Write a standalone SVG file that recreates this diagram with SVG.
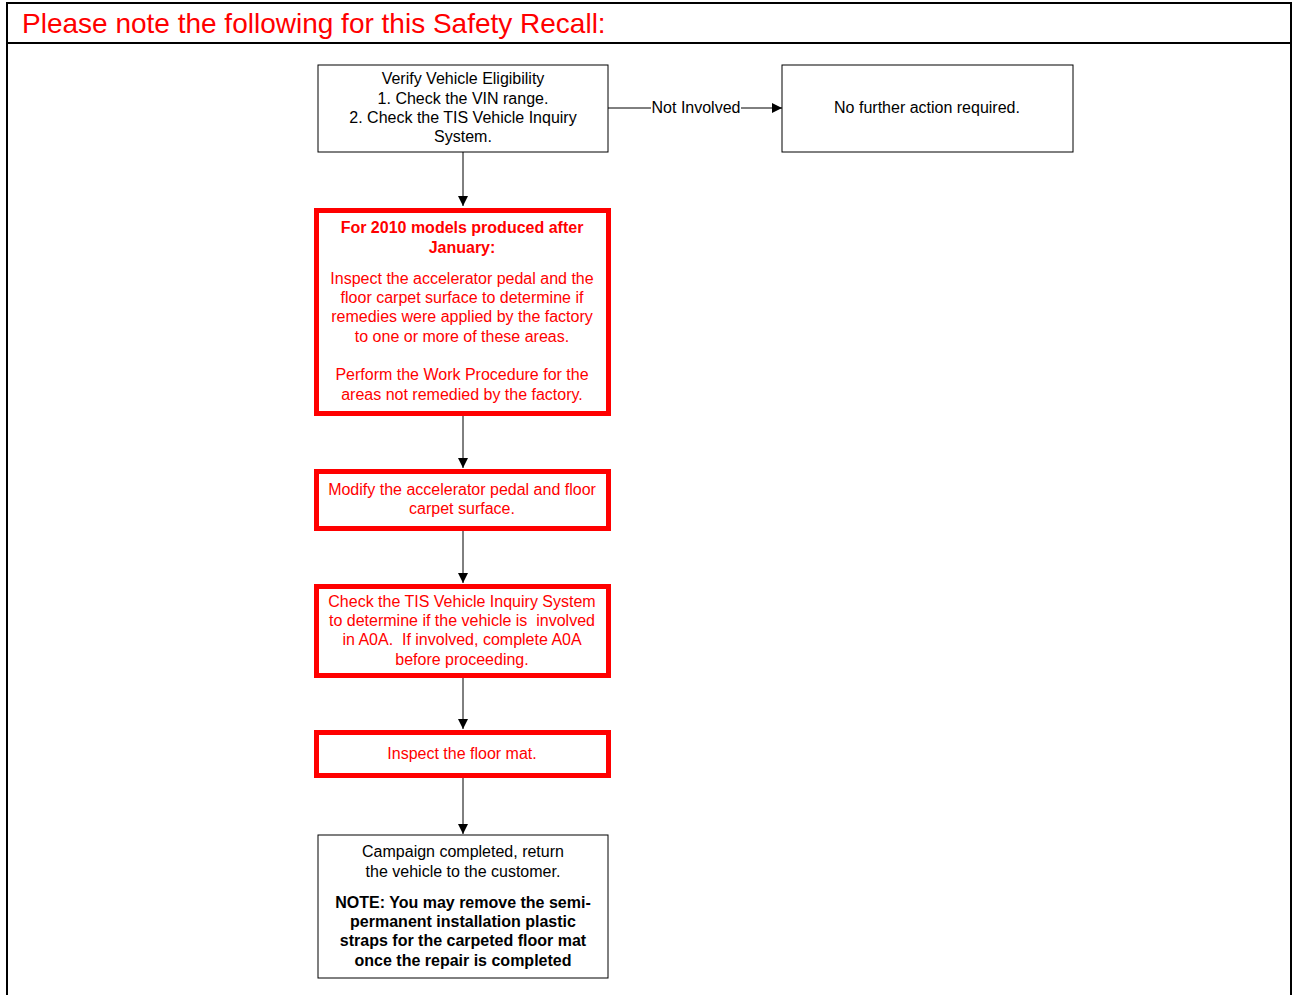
<svg xmlns="http://www.w3.org/2000/svg" width="1296" height="995" viewBox="0 0 1296 995">
<style>
text{font-family:"Liberation Sans",Arial,sans-serif;font-size:16px;text-anchor:middle;white-space:pre}
.blk{fill:#000}
.red{fill:#ff0000}
.b{font-weight:bold}
.box{fill:#fff;stroke:#000;stroke-width:1}
.rbox{fill:#fff;stroke:#ff0000;stroke-width:5}
.con{stroke:#000;stroke-width:1;fill:none;marker-end:url(#arr)}
</style>
<defs>
<marker id="arr" markerWidth="10" markerHeight="10" refX="10" refY="5" orient="auto" markerUnits="userSpaceOnUse">
<path d="M0,0 L10,5 L0,10 z" fill="#000"/>
</marker>
</defs>
<rect width="1296" height="995" fill="#fff"/>
<g id="frame" stroke="#000" stroke-width="2" fill="none">
<path d="M7,995 V3 H1291 V995"/>
<line x1="7" y1="43" x2="1291" y2="43"/>
</g>
<text x="22" y="33" class="red" style="font-size:28px;text-anchor:start">Please note the following for this Safety Recall:</text>
<g id="connectors">
<line class="con" x1="463" y1="152" x2="463" y2="206"/>
<line class="con" x1="463" y1="415" x2="463" y2="468"/>
<line class="con" x1="463" y1="531" x2="463" y2="583"/>
<line class="con" x1="463" y1="678" x2="463" y2="729"/>
<line class="con" x1="463" y1="778" x2="463" y2="834"/>
<line x1="608" y1="108" x2="651" y2="108" stroke="#000"/>
<line class="con" x1="741" y1="108" x2="782" y2="108"/>
<text x="696" y="113" class="blk">Not Involved</text>
</g>
<g id="verify">
<rect class="box" x="318" y="65" width="290" height="87"/>
<text class="blk" x="463" y="84">Verify Vehicle Eligibility</text>
<text class="blk" x="463" y="104">1. Check the VIN range.</text>
<text class="blk" x="463" y="123">2. Check the TIS Vehicle Inquiry</text>
<text class="blk" x="463" y="142">System.</text>
</g>
<g id="nofurther">
<rect class="box" x="782" y="65" width="291" height="87"/>
<text class="blk" x="927" y="113">No further action required.</text>
</g>
<g id="models2010">
<rect class="rbox" x="316.5" y="210.5" width="292" height="203"/>
<text class="red b" x="462" y="233">For 2010 models produced after</text>
<text class="red b" x="462" y="253">January:</text>
<text class="red" x="462" y="284">Inspect the accelerator pedal and the</text>
<text class="red" x="462" y="303">floor carpet surface to determine if</text>
<text class="red" x="462" y="322">remedies were applied by the factory</text>
<text class="red" x="462" y="342">to one or more of these areas.</text>
<text class="red" x="462" y="380">Perform the Work Procedure for the</text>
<text class="red" x="462" y="400">areas not remedied by the factory.</text>
</g>
<g id="modify">
<rect class="rbox" x="316.5" y="471.5" width="292" height="57"/>
<text class="red" x="462" y="495">Modify the accelerator pedal and floor</text>
<text class="red" x="462" y="514">carpet surface.</text>
</g>
<g id="checktis">
<rect class="rbox" x="316.5" y="586.5" width="292" height="89"/>
<text class="red" x="462" y="607">Check the TIS Vehicle Inquiry System</text>
<text class="red" x="462" y="626">to determine if the vehicle is  involved</text>
<text class="red" x="462" y="645">in A0A.  If involved, complete A0A</text>
<text class="red" x="462" y="665">before proceeding.</text>
</g>
<g id="floormat">
<rect class="rbox" x="316.5" y="732.5" width="292" height="43"/>
<text class="red" x="462" y="759">Inspect the floor mat.</text>
</g>
<g id="completed">
<rect class="box" x="318" y="835" width="290" height="143"/>
<text class="blk" x="463" y="857">Campaign completed, return</text>
<text class="blk" x="463" y="877">the vehicle to the customer.</text>
<text class="blk b" x="463" y="908">NOTE: You may remove the semi-</text>
<text class="blk b" x="463" y="927">permanent installation plastic</text>
<text class="blk b" x="463" y="946">straps for the carpeted floor mat</text>
<text class="blk b" x="463" y="966">once the repair is completed</text>
</g>
</svg>
